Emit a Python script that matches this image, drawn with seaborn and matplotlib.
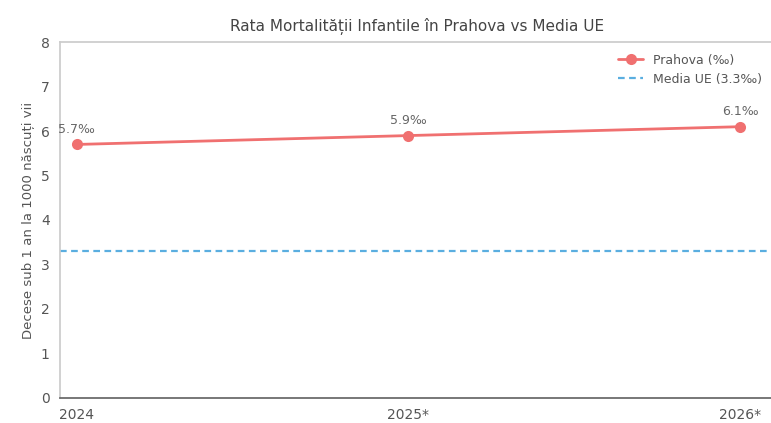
import matplotlib
matplotlib.use("Agg")
import matplotlib.pyplot as plt
import pandas as pd
import seaborn as sns

years = ["2024", "2025*", "2026*"]
prahova_rate = [5.7, 5.9, 6.1]
eu_rate = 3.3
point_labels = ["5.7‰", "5.9‰", "6.1‰"]

sns.set_theme(style="white")
plt.rcParams["font.family"] = ["DejaVu Sans"]

df = pd.DataFrame({"pos": range(len(years)), "Prahova": prahova_rate})

fig = plt.figure(figsize=(7.71, 4.23), dpi=100)
ax = fig.add_axes([0.078, 0.06, 0.925, 0.84])

red = "#f07070"
blue = "#5aaee0"

sns.lineplot(data=df, x="pos", y="Prahova", color=red, linewidth=2, marker="o",
             markersize=8, markeredgewidth=0, label="Prahova (‰)", ax=ax)
ax.axhline(eu_rate, color=blue, linewidth=1.6, linestyle=(0, (3, 2)),
           label=f"Media UE ({eu_rate}‰)")

for i, (v, txt) in enumerate(zip(prahova_rate, point_labels)):
    ax.annotate(txt, (i, v), xytext=(0, 6), textcoords="offset points",
                ha="center", va="bottom", fontsize=9, color="#666666")

ax.set_xlim(-0.05, 2.1)
ax.set_ylim(0, 8)
ax.set_xticks(range(len(years)))
ax.set_xticklabels(years)
ax.set_yticks(range(0, 9))
ax.tick_params(axis="both", labelsize=10, colors="#555555", length=4, color="#999999")
ax.set_xlabel("")
ax.set_ylabel("Decese sub 1 an la 1000 născuți vii", fontsize=9.5, color="#555555")
ax.set_title("Rata Mortalității Infantile în Prahova vs Media UE", fontsize=11,
             color="#444444", pad=8)

for side in ["top", "right", "left"]:
    ax.spines[side].set_color("#cccccc")
ax.spines["bottom"].set_color("#666666")

ax.legend(loc="upper right", frameon=False, fontsize=9, labelcolor="#555555")

fig.savefig("out.png", dpi=100)
